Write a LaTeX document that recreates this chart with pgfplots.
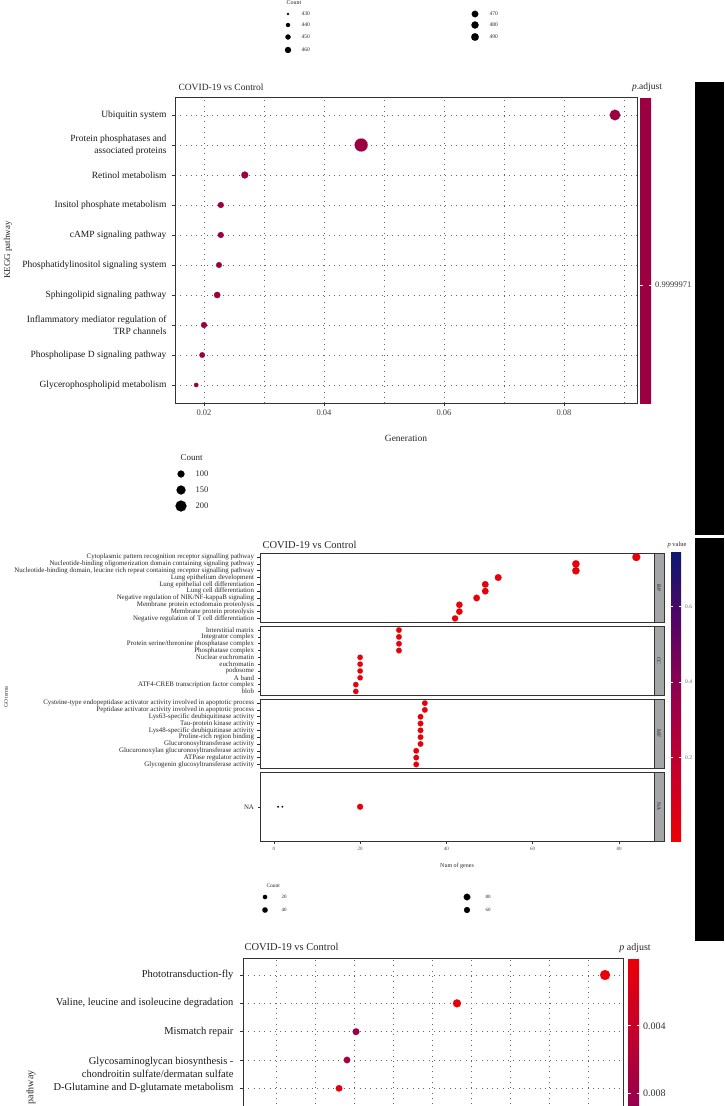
\documentclass[border=0pt]{standalone}
\usepackage{pgfplots}
\pgfplotsset{compat=1.18}
\usepackage{fontspec}
\setmainfont{Liberation Serif}
\definecolor{kred}{RGB}{155,0,65}
\definecolor{stripgray}{RGB}{163,165,166}
\newcommand{\fs}[2]{\fontsize{#1}{#2}\selectfont}
\pgfplotsset{
  colormap={rb}{rgb255=(235,0,5) rgb255=(195,0,45) rgb255=(150,0,75) rgb255=(85,5,100) rgb255=(10,25,110)},
  colormap={br}{rgb255=(10,25,110) rgb255=(85,5,100) rgb255=(150,0,75) rgb255=(195,0,45) rgb255=(235,0,5)},
  gridsty/.style={dash pattern=on 0.7pt off 4.6pt, draw=black!60, line width=0.6pt},
  mapdots/.style={scatter, only marks, mark=*, point meta=explicit,
    scatter/use mapped color={draw=mapped color, fill=mapped color},
    mark options={line width=0.1pt},
    visualization depends on={\thisrow{r}\as\rad},
    scatter/@pre marker code/.append style={/tikz/mark size=\rad}},
  legdots/.style={scatter, only marks, mark=*,
    scatter/use mapped color={draw=black, fill=black},
    mark options={line width=0.1pt},
    visualization depends on={\thisrow{r}\as\rad},
    scatter/@pre marker code/.append style={/tikz/mark size=\rad}},
  facet/.style={anchor=north west, scale only axis, width=394pt, height=69.5pt,
    xmin=-3.2, xmax=88.1, tick align=outside, major tick length=2.5pt,
    tick style={black!80, line width=0.5pt}, xtick pos=left, ytick pos=left,
    axis line style={black!80, line width=0.9pt},
    yticklabel style={font=\fs{6.9}{7.5}, black!85},
    colormap name=rb, point meta min=-0.022, point meta max=0.745},
  cbar/.style={scale only axis, scaled y ticks=false, ytick pos=both, yticklabels={},
    tick style={white, line width=0.5pt}, major tick length=2.5pt, tick align=inside,
    axis line style={draw=none}},
}
\begin{document}
\begin{tikzpicture}
\useasboundingbox (0pt,0pt) rectangle (724pt,-1106pt);
\clip (0pt,0pt) rectangle (724pt,-1106pt);

% ---------- legend helper axis (pixel coordinates) ----------
\begin{axis}[at={(0pt,0pt)}, anchor=north west, scale only axis, width=724pt, height=1106pt,
  xmin=0, xmax=724, ymin=-1106, ymax=0, hide axis, clip=false]
\addplot[legdots] table[x=x,y=y]{
x y r
288 -14 1.2
288 -25 2.1
288 -37 2.6
288 -50 3.1
475 -14 3.3
475 -25 3.6
475 -37 3.8
181 -474 3.5
181 -490 4.5
181 -506 5.5
265 -897 2.2
265 -910 2.7
467 -897 3.3
467 -910 3.0
};
\end{axis}

% ---------- Panel 1: KEGG ----------
\begin{axis}[at={(175pt,-97pt)}, anchor=north west, scale only axis, width=462pt, height=306pt,
  xmin=0.01517, xmax=0.09217, ymin=0.4, ymax=10.6,
  xtick={0.02,0.04,0.06,0.08}, xticklabels={0.02,0.04,0.06,0.08}, scaled x ticks=false,
  minor xtick={0.03,0.05,0.07,0.09},
  ytick={1,...,10},
  yticklabels={Glycerophospholipid metabolism, Phospholipase D signaling pathway,
    {Inflammatory mediator regulation of\\TRP channels}, Sphingolipid signaling pathway,
    Phosphatidylinositol signaling system, cAMP signaling pathway, Insitol phosphate metabolism,
    Retinol metabolism, {Protein phosphatases and\\associated proteins}, Ubiquitin system},
  grid=both, major grid style={gridsty}, minor grid style={gridsty},
  tick align=outside, major tick length=3pt, minor tick length=0pt,
  tick style={black!80, line width=0.6pt}, xtick pos=left, ytick pos=left,
  axis line style={black!80, line width=0.8pt},
  yticklabel style={font=\fs{9.5}{12}, align=right, black!90, xshift=-2pt},
  xticklabel style={font=\fs{8.5}{10}, black!75},
  colormap={kc}{rgb255=(155,0,65) rgb255=(155,0,65)},
  point meta min=0, point meta max=1,
  colorbar, colorbar style={cbar, at={(parent axis.north east)}, anchor=north west, xshift=-5.5pt,
    width=11pt, height=306pt, ytick={0.386}},
]
\addplot[mapdots] table[x=x,y=y,meta=m]{
x y r m
0.0885 10 5.3 0.5
0.0462 9 6.5 0.5
0.0268 8 3.5 0.5
0.0228 7 3.0 0.5
0.0228 6 3.0 0.5
0.0225 5 2.9 0.5
0.0222 4 3.2 0.5
0.0200 3 3.0 0.5
0.0197 2 2.8 0.5
0.0187 1 2.2 0.5
};
\end{axis}

% ---------- Panel 2: GO facets ----------
\begin{axis}[facet, at={(260pt,-553pt)}, ymin=0.4, ymax=10.6, xtick=\empty, ytick={1,...,10},
  yticklabels={Negative regulation of T cell differentiation, Membrane protein proteolysis,
    Membrane protein ectodomain proteolysis, Negative regulation of NIK/NF-kappaB signaling,
    Lung cell differentiation, Lung epithelial cell differentiation, Lung epithelium development,
    {Nucleotide-binding domain, leucine rich repeat containing receptor signalling pathway},
    Nucleotide-binding oligomerization domain containing signaling pathway,
    Cytoplasmic pattern recognition receptor signalling pathway}]
\addplot[mapdots] table[x=x,y=y,meta=m]{
x y r m
84 10 4.0 0.002
70 9 3.7 0.002
70 8 3.7 0.002
52 7 3.4 0.002
49 6 3.3 0.002
49 5 3.3 0.002
47 4 3.3 0.002
43 3 3.2 0.002
43 2 3.2 0.002
42 1 3.1 0.002
};
\end{axis}

\begin{axis}[facet, at={(260pt,-626pt)}, ymin=0.4, ymax=10.6, xtick=\empty, ytick={1,...,10},
  yticklabels={blob, ATF4-CREB transcription factor complex, A band, podosome, euchromatin,
    Nuclear euchromatin, Phosphatase complex, Protein serine/threonine phosphatase complex,
    Integrator complex, Interstitial matrix}]
\addplot[mapdots] table[x=x,y=y,meta=m]{
x y r m
29 10 2.8 0.002
29 9 2.8 0.002
29 8 2.8 0.002
29 7 2.8 0.002
20 6 2.7 0.002
20 5 2.7 0.002
20 4 2.7 0.002
20 3 2.7 0.002
19 2 2.7 0.002
19 1 2.7 0.002
};
\end{axis}

\begin{axis}[facet, at={(260pt,-699pt)}, ymin=0.4, ymax=10.6, xtick=\empty, ytick={1,...,10},
  yticklabels={Glycogenin glucosyltransferase activity, ATPase regulator activity,
    Glucuronoxylan glucuronosyltransferase activity, Glucuronosyltransferase activity,
    Proline-rich region binding, Lys48-specific deubiquitinase activity, Tau-protein kinase activity,
    Lys63-specific deubiquitinase activity, Peptidase activator activity involved in apoptotic process,
    Cysteine-type endopeptidase activator activity involved in apoptotic process}]
\addplot[mapdots] table[x=x,y=y,meta=m]{
x y r m
35 10 2.8 0.002
35 9 2.8 0.002
34 8 2.8 0.002
34 7 2.8 0.002
34 6 2.8 0.002
34 5 2.8 0.002
34 4 2.8 0.002
33 3 2.8 0.002
33 2 2.8 0.002
33 1 2.8 0.002
};
\end{axis}

\begin{axis}[facet, at={(260pt,-772pt)}, ymin=0.4, ymax=1.6, ytick={1}, yticklabels={NA},
  xtick={0,20,40,60,80}, xticklabels={0,20,40,60,80},
  xticklabel style={font=\fs{5}{6}, black!70},
  colorbar, colorbar style={cbar, at={(parent axis.south east)}, anchor=south west, xshift=8.5pt,
    width=10pt, height=290pt, ytick={0.2,0.4,0.6}, major tick length=2pt}]
\addplot[mapdots] table[x=x,y=y,meta=m]{
x y r m
1 1 0.9 0.745
2 1 0.9 0.745
20 1 3.0 0.002
};
\end{axis}

% strips
\foreach \t/\a/\b in {BP/553/622.5, CC/626/695.5, MF/699/768.5, NA/772/841.5}{
  \filldraw[fill=stripgray, draw=black!80, line width=0.8pt] (654pt,-\a pt) rectangle (664pt,-\b pt);
  \node[rotate=-90, font=\fs{5.5}{6}, black!85] at (659pt,{-(\a+\b)/2*1pt}) {\t};
}

% ---------- Panel 3: bottom KEGG ----------
\begin{axis}[at={(243pt,-958pt)}, anchor=north west, scale only axis, width=380pt, height=289pt,
  xmin=0.00385, xmax=0.2474, ymin=0.4, ymax=10.6,
  xtick={0.025,0.05,0.075,0.1,0.125,0.15,0.175,0.2,0.225},
  xmajorticks=false, scaled x ticks=false,
  ytick={6,...,10},
  yticklabels={D-Glutamine and D-glutamate metabolism,
    {\strut\\Glycosaminoglycan biosynthesis -\\chondroitin sulfate/dermatan sulfate},
    Mismatch repair, {Valine, leucine and isoleucine degradation}, Phototransduction-fly},
  grid=major, major grid style={gridsty},
  tick align=outside, major tick length=3pt,
  tick style={black!80, line width=0.6pt}, xtick pos=left, ytick pos=left,
  axis line style={black!80, line width=0.8pt},
  yticklabel style={font=\fs{10.5}{13}, align=right, black!90, xshift=-3pt},
  colormap name=br, point meta min=-0.0171, point meta max=0,
  colorbar, colorbar style={cbar, at={(parent axis.north east)}, anchor=north west, xshift=-3.5pt,
    width=11pt, height=289pt, ytick={-0.008,-0.004}},
]
\addplot[mapdots] table[x=x,y=y,meta=m]{
x y r m
0.2359 10 5.0 -0.0001
0.1410 9 4.0 -0.0003
0.0763 8 3.4 -0.0078
0.0705 7 3.3 -0.0072
0.0654 6 3.3 -0.0008
};
\end{axis}

% ---------- text ----------
\begin{scope}[black!85]
% top legend
\node[anchor=west, font=\fs{6}{7}] at (283pt,-3pt) {Count};
\foreach \l/\y in {430/14, 440/25, 450/37, 460/50}{\node[anchor=west, font=\fs{5.5}{6}] at (298pt,-\y pt) {\l};}
\foreach \l/\y in {470/14, 480/25, 490/37}{\node[anchor=west, font=\fs{5.5}{6}] at (486pt,-\y pt) {\l};}
% panel 1
\node[anchor=west, font=\fs{9.5}{11}] at (175pt,-87pt) {COVID-19 vs Control};
\node[font=\fs{9.5}{11}] at (647pt,-87pt) {\textit{p}.adjust};
\node[anchor=west, inner sep=0pt, font=\fs{8.5}{10}, black!80] at (655pt,-285pt) {0.9999971};
\node[font=\fs{9.5}{11}] at (406pt,-438pt) {Generation};
\node[rotate=90, font=\fs{9}{10}] at (8pt,-250pt) {KEGG pathway};
\node[anchor=west, font=\fs{9}{10}] at (177pt,-458pt) {Count};
\foreach \l/\y in {100/474, 150/490, 200/506}{\node[anchor=west, font=\fs{8.5}{10}] at (192pt,-\y pt) {\l};}
% panel 2
\node[anchor=west, font=\fs{10.5}{12}] at (259pt,-545pt) {COVID-19 vs Control};
\node[font=\fs{6.5}{7}] at (677pt,-545pt) {\textit{p} value};
\foreach \l/\y in {0.6/607, 0.4/682, 0.2/758}{\node[anchor=west, inner sep=0pt, font=\fs{5.5}{6}, black!60] at (685pt,-\y pt) {\l};}
\node[rotate=90, font=\fs{5.5}{6}] at (6pt,-697pt) {GO terms};
\node[font=\fs{6}{7}] at (457pt,-866pt) {Num of genes};
\node[anchor=west, font=\fs{5.5}{6}] at (263pt,-886pt) {Count};
\node[anchor=west, font=\fs{5}{6}] at (278pt,-897pt) {20};
\node[anchor=west, font=\fs{5}{6}] at (278pt,-910pt) {40};
\node[anchor=west, font=\fs{5}{6}] at (482pt,-897pt) {80};
\node[anchor=west, font=\fs{5}{6}] at (482pt,-910pt) {60};
% panel 3
\node[anchor=west, font=\fs{10.5}{12}] at (241pt,-947pt) {COVID-19 vs Control};
\node[font=\fs{10}{11}] at (635pt,-948pt) {\textit{p} adjust};
\node[anchor=west, inner sep=0pt, font=\fs{10}{11}, black!80] at (643pt,-1026pt) {0.004};
\node[anchor=west, inner sep=0pt, font=\fs{10}{11}, black!80] at (643pt,-1093pt) {0.008};
\node[rotate=90, anchor=east, font=\fs{10}{11}] at (31pt,-1067pt) {KEGG pathway};
\end{scope}

% black bars
\fill[black] (695pt,-82pt) rectangle (724pt,-535pt);
\fill[black] (695pt,-538pt) rectangle (724pt,-941pt);
\end{tikzpicture}
\end{document}
